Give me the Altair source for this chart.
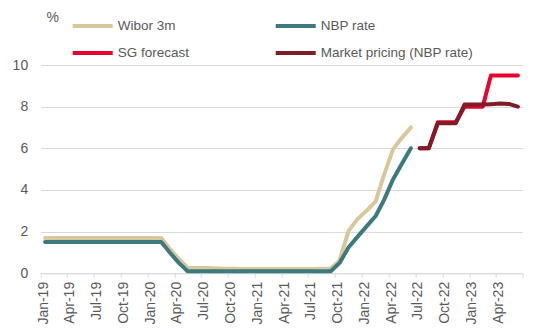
import altair as alt
import pandas as pd

# Monthly categories Jan-19 .. Jun-23
months = pd.date_range("2019-01-01", "2023-06-01", freq="MS")
mid = [(m + pd.Timedelta(days=15)).strftime("%Y-%m-%d") for m in months]

wibor_3m = [1.7, 1.7, 1.7, 1.7, 1.7, 1.7, 1.7, 1.7, 1.7, 1.7, 1.7, 1.7,
            1.69, 1.69, 1.17, 0.69, 0.27, 0.26, 0.25, 0.24, 0.22, 0.22, 0.21, 0.21,
            0.21, 0.21, 0.21, 0.21, 0.21, 0.21, 0.21, 0.22, 0.23, 0.62, 2.05, 2.6,
            3.0, 3.45, 4.7, 5.95, 6.5, 7.0]
nbp_rate = [1.5, 1.5, 1.5, 1.5, 1.5, 1.5, 1.5, 1.5, 1.5, 1.5, 1.5, 1.5,
            1.5, 1.5, 1.0, 0.5, 0.1, 0.1, 0.1, 0.1, 0.1, 0.1, 0.1, 0.1,
            0.1, 0.1, 0.1, 0.1, 0.1, 0.1, 0.1, 0.1, 0.1, 0.5, 1.25, 1.75,
            2.25, 2.75, 3.5, 4.5, 5.25, 6.0]
sg_forecast = [6.0, 6.0, 7.25, 7.25, 7.25, 8.0, 8.0, 8.0, 9.5, 9.5, 9.5, 9.5]
market_pricing = [6.0, 6.0, 7.2, 7.2, 7.2, 8.1, 8.1, 8.1, 8.12, 8.15, 8.13, 8.0]

series_names = ["Wibor 3m", "NBP rate", "SG forecast", "Market pricing (NBP rate)"]
series_colors = ["#D9C79C", "#3D797D", "#E6032D", "#7E1D25"]
tick_dates = ["2019-01-01", "2019-04-01", "2019-07-01", "2019-10-01",
              "2020-01-01", "2020-04-01", "2020-07-01", "2020-10-01",
              "2021-01-01", "2021-04-01", "2021-07-01", "2021-10-01",
              "2022-01-01", "2022-04-01", "2022-07-01", "2022-10-01",
              "2023-01-01", "2023-04-01", "2023-07-01"]

rows = []
for i, v in enumerate(wibor_3m):
    rows.append({"date": mid[i], "series": series_names[0], "value": v})
for i, v in enumerate(nbp_rate):
    rows.append({"date": mid[i], "series": series_names[1], "value": v})
for i, v in enumerate(sg_forecast):
    rows.append({"date": mid[42 + i], "series": series_names[2], "value": v})
for i, v in enumerate(market_pricing):
    rows.append({"date": mid[42 + i], "series": series_names[3], "value": v})
df = pd.DataFrame(rows)


def dt(s):
    y, m, d = [int(p) for p in s.split("-")]
    return alt.DateTime(year=y, month=m, date=d, utc=True)


FONT = "Liberation Sans"
GREY = "#595959"

x_enc = alt.X(
    "date:T",
    scale=alt.Scale(type="utc", domain=[dt("2019-01-01"), dt("2023-07-01")]),
    axis=alt.Axis(
        values=[dt(t) for t in tick_dates],
        labelExpr="utcFormat(datum.value, '%Y-%m') == '2023-07' ? '' : utcFormat(datum.value, '%b-%y')",
        labelAngle=-90,
        labelAlign="right",
        labelBaseline="middle",
        labelOffset=2.5,
        labelPadding=4,
        tickSize=4,
        tickColor="#D9D9D9",
        domainColor="#D9D9D9",
        grid=False,
        title=None,
        labelFont=FONT,
        labelFontSize=14,
        labelColor=GREY,
        labelOverlap=False,
    ),
)
y_enc = alt.Y(
    "value:Q",
    scale=alt.Scale(domain=[0, 10]),
    axis=alt.Axis(
        values=[0, 2, 4, 6, 8, 10],
        ticks=False,
        tickSize=0,
        domain=False,
        labelPadding=13,
        gridColor="#D9D9D9",
        gridWidth=1,
        labelFont=FONT,
        labelFontSize=14,
        labelColor=GREY,
        title="%",
        titleAngle=0,
        titleX=5.3,
        titleY=-43.3,
        titleAlign="left",
        titleBaseline="alphabetic",
        titleFont=FONT,
        titleFontSize=14,
        titleFontWeight="normal",
        titleColor=GREY,
    ),
)
color_enc = alt.Color(
    "series:N",
    scale=alt.Scale(domain=series_names, range=series_colors),
    legend=alt.Legend(
        orient="none",
        direction="horizontal",
        legendX=40,
        legendY=-51,
        columns=2,
        title=None,
        symbolType="M-2,0H2",
        symbolSize=400,
        symbolStrokeWidth=4,
        symbolFillColor="transparent",
        labelFont=FONT,
        labelFontSize=13.5,
        labelColor=GREY,
        labelOffset=13,
        columnPadding=78,
        rowPadding=7,
        padding=0,
    ),
)

layers = []
for name in series_names:
    layers.append(
        alt.Chart(df)
        .transform_filter(alt.datum.series == name)
        .mark_line(strokeWidth=4, strokeCap="round", strokeJoin="round")
        .encode(x=x_enc, y=y_enc, color=color_enc)
    )

chart = (
    alt.layer(*layers)
    .properties(
        width=481.6,
        height=208.3,
        autosize=alt.AutoSizeParams(type="none"),
        padding={"left": 40.7, "top": 65, "right": 22.7, "bottom": 54.7},
        background="white",
    )
    .configure_view(stroke=None)
)

chart.save("out.html", embed_options={"renderer": "svg", "actions": False})
